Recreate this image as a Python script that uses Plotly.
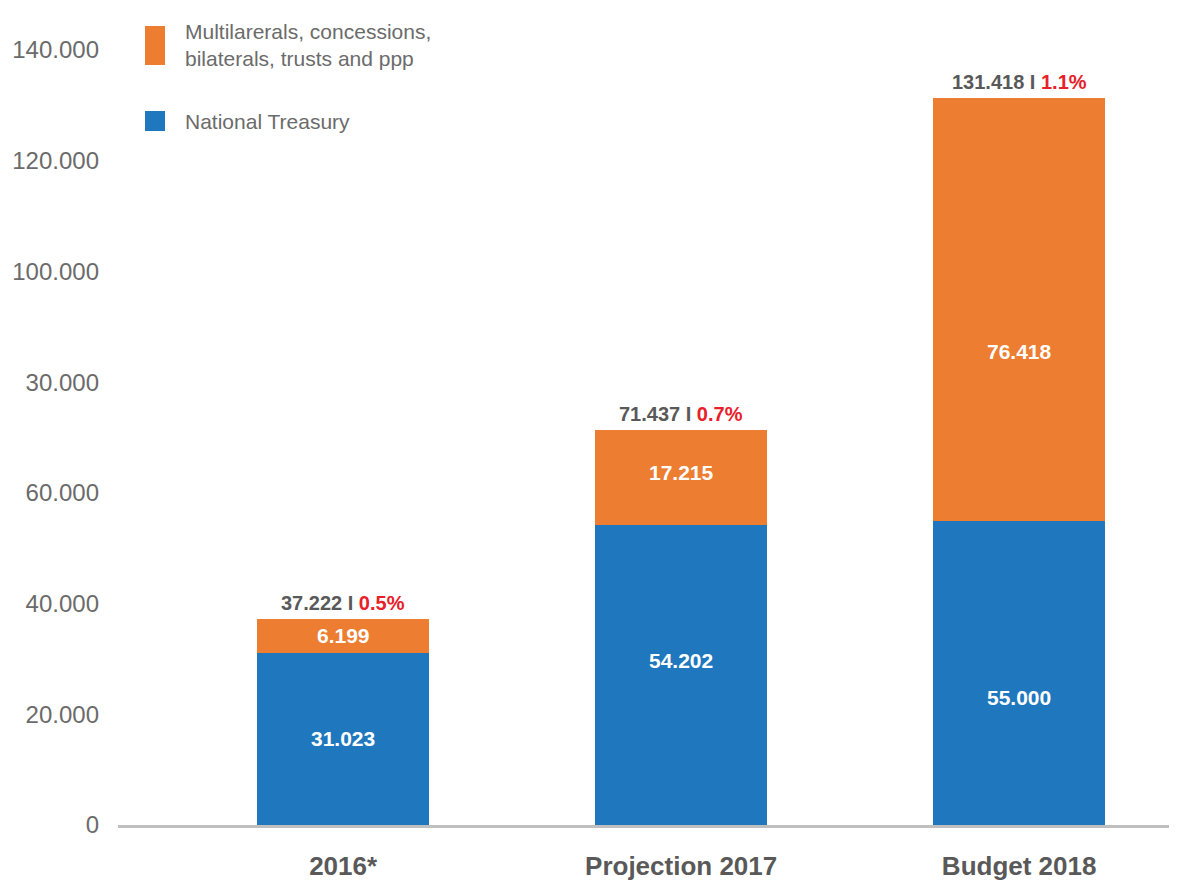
import plotly.graph_objects as go

# Data
categories = ['2016*', 'Projection 2017', 'Budget 2018']
national_treasury = [31023, 54202, 55000]
multilaterals = [6199, 17215, 76418]
total_labels = ['37.222', '71.437', '131.418']
gdp_share = ['0.5%', '0.7%', '1.1%']
tick_values = [0, 20000, 40000, 60000, 80000, 100000, 120000, 140000]
tick_labels = ['0', '20.000', '40.000', '60.000', '30.000', '100.000', '120.000', '140.000']

# Label placement inside the bars (data units)
treasury_label_y = [15700, 29800, 23100]
multi_label_y = [34150, 63600, 85600]

COLORS = {
    'treasury': '#1f77be',
    'multi': '#ed7d31',
    'axis': '#bfbfbf',
    'text': '#595959',
    'tick': '#6b6b6b',
    'red': '#e8202a',
}
FONT = 'Liberation Sans, Arial, sans-serif'

# page body has an 8px margin, so the figure is drawn 8px in from the corner
OFF = 8
W, H = 1177 - OFF, 881 - OFF
L, T, B = 118 - OFF, 20 - OFF, 56
PLOT_W, PLOT_H = W - L, H - T - B


def fmt(v):
    return f"{v / 1000:.3f}"


def px_x(x):
    return (x - OFF - L) / PLOT_W


def px_y(y):
    return (H - B - (y - OFF)) / PLOT_H


fig = go.Figure()

fig.add_trace(go.Bar(
    x=categories, y=national_treasury, name='National Treasury',
    marker=dict(color=COLORS['treasury'], line=dict(width=0)),
    width=0.51, showlegend=False,
))
fig.add_trace(go.Bar(
    x=categories, y=multilaterals,
    name='Multilarerals, concessions,<br>bilaterals, trusts and ppp',
    marker=dict(color=COLORS['multi'], line=dict(width=0)),
    width=0.51, showlegend=False,
))

annotations = []
for i, cat in enumerate(categories):
    annotations.append(dict(
        x=cat, y=treasury_label_y[i], text=f"<b>{fmt(national_treasury[i])}</b>",
        showarrow=False, font=dict(size=21, color='white', family=FONT),
    ))
    annotations.append(dict(
        x=cat, y=multi_label_y[i], text=f"<b>{fmt(multilaterals[i])}</b>",
        showarrow=False, font=dict(size=21, color='white', family=FONT),
    ))
    total = national_treasury[i] + multilaterals[i]
    annotations.append(dict(
        x=cat, y=total, yanchor='bottom', yshift=3,
        text=(f"<b>{total_labels[i]} I </b>"
              f"<span style='color:{COLORS['red']}'><b>{gdp_share[i]}</b></span>"),
        showarrow=False, font=dict(size=20, color=COLORS['text'], family=FONT),
    ))

# Manual legend, placed in page pixels
legend_items = [
    ('Multilarerals, concessions,<br>bilaterals, trusts and ppp', COLORS['multi'], 26, 65),
    ('National Treasury', COLORS['treasury'], 111, 131),
]
shapes = []
for text, color, top, bottom in legend_items:
    shapes.append(dict(
        type='rect', xref='paper', yref='paper',
        x0=px_x(145), x1=px_x(165), y0=px_y(bottom), y1=px_y(top),
        fillcolor=color, line=dict(width=0),
    ))
    annotations.append(dict(
        xref='paper', yref='paper', x=px_x(183), y=px_y((top + bottom) / 2),
        xanchor='left', yanchor='middle', align='left',
        text=text, showarrow=False,
        font=dict(size=21, color=COLORS['tick'], family=FONT),
    ))

fig.update_layout(
    barmode='stack',
    width=W, height=H,
    margin=dict(l=L, r=0, t=T, b=B),
    plot_bgcolor='white', paper_bgcolor='white',
    font=dict(family=FONT),
    xaxis=dict(
        range=[-0.666, 2.467],
        showline=True, linecolor=COLORS['axis'], linewidth=3,
        showgrid=False, ticks='',
        tickfont=dict(size=26, color=COLORS['text'], family=FONT),
        ticklabelstandoff=16,
        tickprefix='<b>', ticksuffix='</b>',
    ),
    yaxis=dict(
        range=[0, 145419],
        tickvals=tick_values, ticktext=tick_labels,
        showgrid=False, zeroline=False, showline=False, ticks='',
        tickfont=dict(size=24, color=COLORS['tick'], family=FONT),
        ticklabelstandoff=18,
    ),
    annotations=annotations,
    shapes=shapes,
)

fig.write_html("out.html")
